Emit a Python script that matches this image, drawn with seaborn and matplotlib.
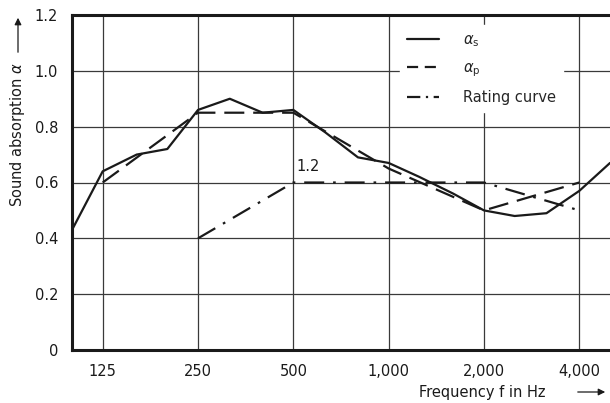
import numpy as np
import pandas as pd
import matplotlib
matplotlib.use("Agg")
import matplotlib.pyplot as plt
from matplotlib.lines import Line2D
import seaborn as sns

# --- data ---
freq_s = [100, 125, 160, 200, 250, 315, 400, 500, 630, 800, 1000, 1250, 1600, 2000, 2500, 3150, 4000, 5000]
alpha_s = [0.43, 0.64, 0.70, 0.72, 0.86, 0.90, 0.85, 0.86, 0.78, 0.69, 0.67, 0.62, 0.56, 0.50, 0.48, 0.49, 0.57, 0.67]
freq_p = [125, 250, 500, 1000, 2000, 4000]
alpha_p = [0.60, 0.85, 0.85, 0.65, 0.50, 0.60]
freq_r = [250, 500, 1000, 2000, 4000]
rating = [0.40, 0.60, 0.60, 0.60, 0.50]
xticks = [125, 250, 500, 1000, 2000, 4000]
xticklabels = ["125", "250", "500", "1,000", "2,000", "4,000"]
yticks = [0, 0.2, 0.4, 0.6, 0.8, 1.0, 1.2]
yticklabels = ["0", "0.2", "0.4", "0.6", "0.8", "1.0", "1.2"]
labels = [r"$\alpha_\mathrm{s}$", r"$\alpha_\mathrm{p}$", "Rating curve"]

sns.set_style("white")
plt.rcParams['font.family'] = ['Liberation Sans Narrow', 'DejaVu Sans']
plt.rcParams['mathtext.fontset'] = 'dejavusans'

df_s = pd.DataFrame({"f": freq_s, "a": alpha_s})
df_p = pd.DataFrame({"f": freq_p, "a": alpha_p})
df_r = pd.DataFrame({"f": freq_r, "a": rating})

fig = plt.figure(figsize=(6.10, 4.03), dpi=100)
ax = fig.add_axes([72/610, 1-350/403, 1-72/610, (350-15)/403])

lc = "#1a1a1a"
lw = 1.6
sns.lineplot(data=df_s, x="f", y="a", ax=ax, color=lc, lw=lw, zorder=5, legend=False)
sns.lineplot(data=df_p, x="f", y="a", ax=ax, color=lc, lw=lw, zorder=5, legend=False)
sns.lineplot(data=df_r, x="f", y="a", ax=ax, color=lc, lw=lw, zorder=5, legend=False)
lines = ax.get_lines()[:3]
lines[1].set_dashes([9, 4])
lines[2].set_dashes([9, 4, 1.2, 4])

ax.set_xscale("log", base=2)
ax.set_xlim(100, 5000)
ax.set_ylim(0, 1.2)
ax.set_xticks(xticks)
ax.set_xticklabels(xticklabels)
ax.minorticks_off()
ax.set_yticks(yticks)
ax.set_yticklabels(yticklabels)
ax.tick_params(axis="both", direction="out", length=7, width=1, color="#333333",
               labelsize=10.5, labelcolor="#1a1a1a", pad=3)
ax.grid(True, color="#3a3a3a", lw=0.9)
ax.set_xlabel("")
ax.set_ylabel("")

for s in ["left", "bottom", "top"]:
    ax.spines[s].set_color("#1a1a1a")
    ax.spines[s].set_linewidth(2.2)
ax.spines["right"].set_visible(False)

ax.text(510, 0.63, "1.2", fontsize=10.5, color="#1a1a1a", ha="left", va="bottom")

handles = [
    Line2D([], [], color=lc, lw=lw),
    Line2D([], [], color=lc, lw=lw, dashes=[5, 3]),
    Line2D([], [], color=lc, lw=lw, dashes=[6, 2.5, 1, 2.5]),
]
leg = ax.legend(handles, labels, loc="upper left", bbox_to_anchor=(0.6095, 0.97), frameon=True,
                fontsize=10.5, handlelength=2.2, handletextpad=1.6, labelspacing=0.75,
                borderpad=0.5, borderaxespad=0)
leg.get_frame().set_facecolor("white")
leg.get_frame().set_edgecolor("white")
leg.get_frame().set_alpha(1)
leg.set_zorder(6)

# axis labels with arrows
fig.text(482/610, 1-392/403, "Frequency f in Hz", ha="center", va="center", fontsize=10.5, color="#1a1a1a")
fig.add_artist(matplotlib.patches.FancyArrowPatch((575/610, 1-392/403), (608/610, 1-392/403),
               transform=fig.transFigure, arrowstyle="-|>", mutation_scale=10, color="#1a1a1a", lw=0.9))
fig.text(18/610, 1-135/403, r"Sound absorption $\alpha$", ha="center", va="center", rotation=90,
         fontsize=10.5, color="#1a1a1a")
fig.add_artist(matplotlib.patches.FancyArrowPatch((18/610, 1-55/403), (18/610, 1-15/403),
               transform=fig.transFigure, arrowstyle="-|>", mutation_scale=10, color="#1a1a1a", lw=0.9))

fig.savefig("out.png", dpi=100)
